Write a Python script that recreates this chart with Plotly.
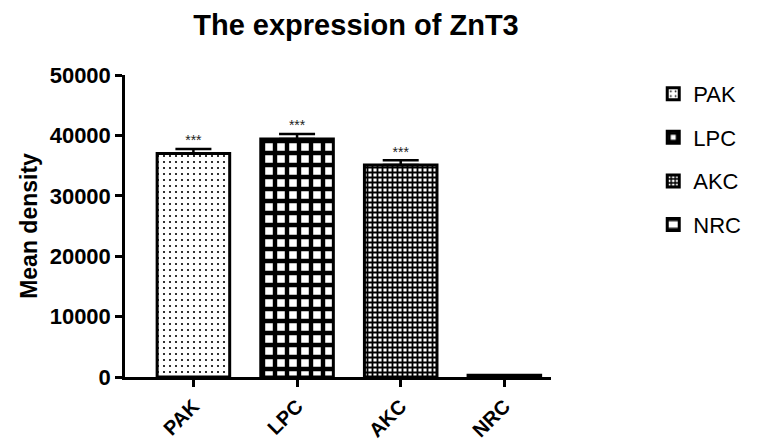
import plotly.graph_objects as go

categories = ["PAK", "LPC", "AKC", "NRC"]
means = [37000, 39400, 35100, 300]
errors = [750, 850, 800, 0]
sig_labels = ["***", "***", "***", ""]
tick_vals_y = [0, 10000, 20000, 30000, 40000, 50000]

patterns = {
    "PAK": dict(shape=".", size=6, solidity=0.1, fgcolor="black", bgcolor="white", fgopacity=1, fillmode="overlay"),
    "LPC": dict(shape="+", size=12, solidity=0.6, fgcolor="black", bgcolor="white", fgopacity=1, fillmode="overlay"),
    "AKC": dict(shape="+", size=5, solidity=0.6, fgcolor="black", bgcolor="white", fgopacity=1, fillmode="overlay"),
    "NRC": dict(shape="-", size=12, solidity=0.2, fgcolor="black", bgcolor="white", fgopacity=1, fillmode="overlay"),
}

FONT = "Liberation Sans, Arial, sans-serif"

fig = go.Figure()
for cat, m, e in zip(categories, means, errors):
    fig.add_trace(go.Bar(
        x=[cat], y=[m], name=cat, width=0.7,
        legendgroup=cat,
        marker=dict(color="white", line=dict(color="black", width=3), pattern=patterns[cat]),
        error_y=dict(type="data", array=[e], arrayminus=[0], symmetric=False,
                     color="black", thickness=2.5, width=18, visible=e > 0),
    ))

fig.add_trace(go.Scatter(
    x=categories, y=[m + e for m, e in zip(means, errors)], text=sig_labels,
    mode="text", textposition="top center", showlegend=False,
    textfont=dict(family=FONT, size=14, color="#222"), hoverinfo="skip",
))

fig.update_layout(
    width=750, height=434,
    margin=dict(l=117, r=198, t=67, b=65),
    paper_bgcolor="white", plot_bgcolor="white",
    barmode="overlay",
    font=dict(family=FONT, color="black"),
    title=dict(text="<b>The expression of ZnT3</b>", x=0.464, xref="container", xanchor="center",
               y=0.962, yref="container", yanchor="middle",
               font=dict(family=FONT, size=29, color="black")),
    legend=dict(x=1.24, y=1.007, xanchor="left", yanchor="top",
                font=dict(family=FONT, size=22, color="black"),
                tracegroupgap=12, itemwidth=30),
    showlegend=True,
)
fig.update_xaxes(
    type="category", range=[-0.66, 3.45], automargin=False,
    showline=True, linecolor="black", linewidth=2.5,
    ticks="outside", ticklen=7, tickwidth=2.5, tickcolor="black",
    tickangle=-45, tickfont=dict(family=FONT, size=20, color="black", weight="bold"),
    showgrid=False, zeroline=False,
)
fig.update_yaxes(
    range=[0, 50000], tickvals=tick_vals_y, ticktext=[str(v) for v in tick_vals_y],
    automargin=False,
    showline=True, linecolor="black", linewidth=2.5,
    ticks="outside", ticklen=7, tickwidth=2.5, tickcolor="black",
    ticklabelstandoff=0,
    tickfont=dict(family=FONT, size=22, color="black", weight="bold"),
    title=dict(text="<b>Mean density</b>", font=dict(family=FONT, size=23, color="black"), standoff=6),
    showgrid=False, zeroline=False,
)

fig.write_html("out.html")
